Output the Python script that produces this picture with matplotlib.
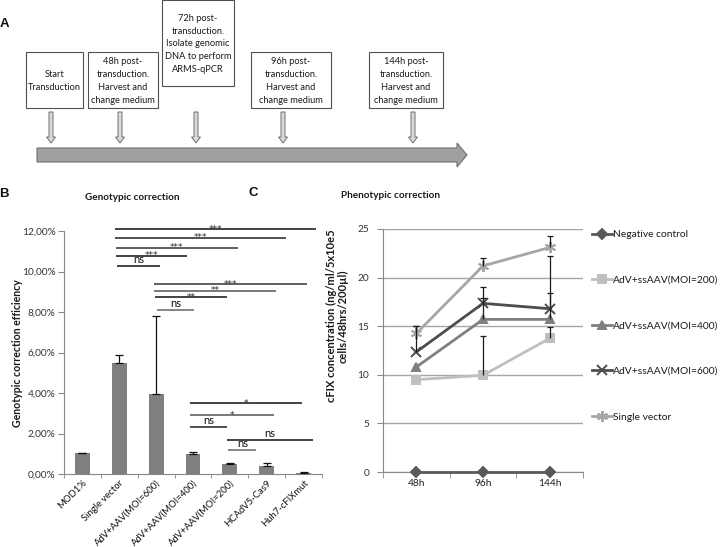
import matplotlib
matplotlib.use('Agg')
import matplotlib.pyplot as plt
from matplotlib.patches import Rectangle, Polygon
import numpy as np

plt.rcParams['font.family'] = ['Lato', 'DejaVu Sans']

W, H = 726, 547

# ---------------- Panel A (timeline) ----------------
a_box_texts = [
    'Start\nTransduction',
    '48h post-\ntransduction.\nHarvest and\nchange medium',
    '72h post-\ntransduction.\nIsolate genomic\nDNA to perform\nARMS-qPCR',
    '96h post-\ntransduction.\nHarvest and\nchange medium',
    '144h post-\ntransduction.\nHarvest and\nchange medium',
]

# ---------------- Panel B (genotypic correction) ----------------
b_categories = ['MOD1%', 'Single vector', 'AdV+AAV(MOI=600)', 'AdV+AAV(MOI=400)',
                'AdV+AAV(MOI=200)', 'HCAdV5-Cas9', 'Huh7-cFIXmut']
b_values = [1.02, 5.50, 3.93, 0.97, 0.50, 0.38, 0.06]
b_err_plus = [0.03, 0.37, 3.90, 0.14, 0.02, 0.14, 0.02]
b_ticks = [0, 2, 4, 6, 8, 10, 12]
b_tick_labels = ['0,00%', '2,00%', '4,00%', '6,00%', '8,00%', '10,00%', '12,00%']

sig_start = [0.88, 0.88, 0.90, 0.90, 0.94, 1.94, 1.94, 1.98, 2.03, 2.93, 2.93, 2.93, 3.93, 3.96]
sig_end = [6.33, 5.53, 4.22, 2.84, 2.10, 6.10, 5.24, 3.93, 3.03, 5.97, 5.20, 3.93, 6.26, 4.72]
sig_level = [12.1, 11.66, 11.17, 10.77, 10.27, 9.37, 9.05, 8.74, 8.10, 3.50, 2.91, 2.32, 1.68, 1.19]
sig_label = ['***', '***', '***', '***', 'ns', '***', '**', '**', 'ns', '*', '*', 'ns', 'ns', 'ns']
sig_color = ['#111111', '#222222', '#333333', '#111111', '#111111', '#333333', '#555555',
             '#111111', '#666666', '#111111', '#555555', '#222222', '#111111', '#666666']

# ---------------- Panel C (phenotypic correction) ----------------
c_times = ['48h', '96h', '144h']
c_series = ['Negative control', 'AdV+ssAAV(MOI=200)', 'AdV+ssAAV(MOI=400)',
            'AdV+ssAAV(MOI=600)', 'Single vector']
neg_control = [0.0, 0.0, 0.0]
moi200 = [9.5, 9.95, 13.75]
moi400 = [10.8, 15.7, 15.7]
moi600 = [12.35, 17.35, 16.8]
single_vector = [14.25, 21.2, 23.1]
neg_err = [0.0, 0.0, 0.0]
moi200_err = [0.0, 4.05, 1.2]
moi400_err = [0.0, 2.15, 2.7]
moi600_err = [2.7, 1.7, 5.4]
single_err = [0.8, 0.85, 1.2]
c_ticks = [0, 5, 10, 15, 20, 25]

fig = plt.figure(figsize=(W / 100, H / 100), dpi=100)
fig.patch.set_facecolor('white')


def fx(px):
    return px / W


def fy(py):
    return 1 - py / H


# ---- overlay axes for panel A and letters ----
axA = fig.add_axes([0, 0, 1, 1])
axA.set_xlim(0, W)
axA.set_ylim(H, 0)
axA.axis('off')

box_x0 = [26, 88, 162, 251, 369]
box_x1 = [83, 158, 234, 331, 443]
box_y0 = [52, 52, 0, 52, 52]
box_y1 = [108, 108, 86, 108, 108]
arrow_x = [51, 120, 196, 283, 413]
for x0, x1, y0, y1, t in zip(box_x0, box_x1, box_y0, box_y1, a_box_texts):
    axA.add_patch(Rectangle((x0, y0), x1 - x0, y1 - y0, facecolor='white',
                            edgecolor='#505050', lw=0.8))
    axA.text((x0 + x1) / 2, (y0 + y1) / 2 + 1, t, ha='center', va='center',
             fontsize=6.7, linespacing=1.55, color='#1a1a1a')

for ax_ in arrow_x:
    pts = [(ax_ - 2, 112), (ax_ + 2, 112), (ax_ + 2, 137), (ax_ + 4.5, 137),
           (ax_, 143), (ax_ - 4.5, 137), (ax_ - 2, 137)]
    axA.add_patch(Polygon(pts, closed=True, facecolor='#d9d9d9', edgecolor='#707070', lw=0.7))

big = [(37, 148), (457, 148), (457, 143), (467, 155), (457, 167), (457, 162), (37, 162)]
axA.add_patch(Polygon(big, closed=True, facecolor='#a0a0a0', edgecolor='#707070', lw=0.8))

for lbl, px, py in [('A', 4, 24), ('B', 4, 194), ('C', 253, 193)]:
    axA.text(px, py, lbl, ha='center', va='center', fontsize=9.5, fontweight='bold',
             family='Liberation Sans', color='#111111')

fig.text(fx(132), fy(197), 'Genotypic correction', ha='center', va='center',
         fontsize=7.2, fontweight='bold', color='#1a1a1a')
fig.text(fx(391), fy(196), 'Phenotypic correction', ha='center', va='center',
         fontsize=7.2, fontweight='bold', color='#1a1a1a')

# ---------------- Panel B ----------------
axB = fig.add_axes([fx(64), fy(474), (322 - 64) / W, (474 - 221) / H])
xb = np.arange(len(b_categories))
axB.bar(xb, b_values, width=0.4, color='#7f7f7f', zorder=2)
axB.errorbar(xb, b_values, yerr=[np.zeros(len(b_values)), b_err_plus], fmt='none',
             ecolor='#111111', elinewidth=0.9, capsize=3, capthick=0.9, zorder=3)
axB.set_xlim(-0.5, len(b_categories) - 0.5)
axB.set_ylim(0, 12.5)
axB.set_yticks(b_ticks)
axB.set_yticklabels(b_tick_labels, fontsize=7.3, color='#333333')
axB.set_xticks(xb)
axB.set_xticklabels(b_categories, rotation=45, ha='right', rotation_mode='anchor',
                    fontsize=6.8, color='#111111')
axB.set_xticks(np.arange(-0.5, len(b_categories)), minor=True)
axB.tick_params(axis='x', which='major', length=0, pad=3)
axB.tick_params(axis='x', which='minor', length=3, color='#888888', direction='out')
axB.tick_params(axis='y', length=4, color='#888888', direction='out', pad=2)
for s in ['top', 'right']:
    axB.spines[s].set_visible(False)
axB.spines['left'].set_color('#888888')
axB.spines['bottom'].set_color('#888888')
axB.spines['left'].set_bounds(0, 12)
axB.set_ylabel('Genotypic correction efficiency', fontsize=7.6, fontweight='bold',
               color='#1a1a1a')
axB.yaxis.set_label_coords((23 - 64) / 258, 0.478)

for s0, s1, lv, lb, col in zip(sig_start, sig_end, sig_level, sig_label, sig_color):
    axB.plot([s0, s1], [lv, lv], color=col, lw=1.1, clip_on=False, zorder=4,
             solid_capstyle='butt')
    if lb == 'ns':
        axB.text((s0 + s1) / 2, lv + 0.06, lb, ha='center', va='bottom', fontsize=8,
                 color='#111111', clip_on=False)
    else:
        axB.text((s0 + s1) / 2, lv - 0.22, lb, ha='center', va='bottom', fontsize=6.5,
                 family='DejaVu Sans', color='#2a2a2a', clip_on=False)

# ---------------- Panel C ----------------
axC = fig.add_axes([fx(383), fy(472), (583 - 383) / W, (472 - 229) / H])
xc = np.arange(len(c_times))
series_vals = [neg_control, moi200, moi400, moi600, single_vector]
series_err = [neg_err, moi200_err, moi400_err, moi600_err, single_err]
series_col = ['#595959', '#bfbfbf', '#808080', '#4d4d4d', '#a6a6a6']
series_mk = ['D', 's', '^', 'x', (6, 2, 0)]
series_ms = [5, 6, 6, 7, 8]
handles = []
for name, vals, errs, col, mk, ms in zip(c_series, series_vals, series_err,
                                         series_col, series_mk, series_ms):
    ln, = axC.plot(xc, vals, color=col, lw=2, marker=mk, markersize=ms,
                   markerfacecolor=col, markeredgecolor=col, markeredgewidth=1.4,
                   label=name, zorder=3, clip_on=False)
    handles.append(ln)
    errs = np.array(errs)
    vals = np.array(vals)
    mask = errs > 0
    axC.vlines(xc[mask], vals[mask], vals[mask] + errs[mask], color='#1a1a1a',
               lw=0.9, zorder=4)
    axC.plot(xc[mask], vals[mask] + errs[mask], linestyle='none', marker='_',
             markersize=5, markeredgewidth=0.9, color='#1a1a1a', zorder=4)

axC.set_xlim(-0.5, len(c_times) - 0.5)
axC.set_ylim(0, 25)
axC.set_yticks(c_ticks)
axC.set_yticklabels([str(t) for t in c_ticks], fontsize=7.3, color='#333333')
axC.set_xticks(xc)
axC.set_xticklabels(c_times, fontsize=7.3, color='#1a1a1a')
axC.set_xticks(np.arange(-0.5, len(c_times)), minor=True)
axC.tick_params(axis='x', which='major', length=0, pad=5)
axC.tick_params(axis='x', which='minor', length=4, color='#888888', direction='out')
axC.tick_params(axis='y', length=4, color='#888888', direction='out', pad=6)
axC.grid(axis='y', color='#a6a6a6', lw=1)
axC.set_axisbelow(True)
for s in ['top', 'right']:
    axC.spines[s].set_visible(False)
axC.spines['left'].set_color('#888888')
axC.spines['bottom'].set_color('#888888')
axC.set_ylabel('cFIX concentration (ng/ml/5x10e5\ncells/48hrs/200µl)', fontsize=8,
               fontweight='bold', color='#1a1a1a', multialignment='center', linespacing=1.15)
axC.yaxis.set_label_coords((349 - 383) / 200, 0.642)

axC.legend(handles=handles, loc='upper left', bbox_to_anchor=(fx(592), fy(230)),
           bbox_transform=fig.transFigure, frameon=False, borderpad=0, borderaxespad=0,
           handlelength=1.9, handletextpad=0.15, labelspacing=3.54, fontsize=7.4,
           labelcolor='#1a1a1a')

fig.savefig('out.png', dpi=100, facecolor='white')
